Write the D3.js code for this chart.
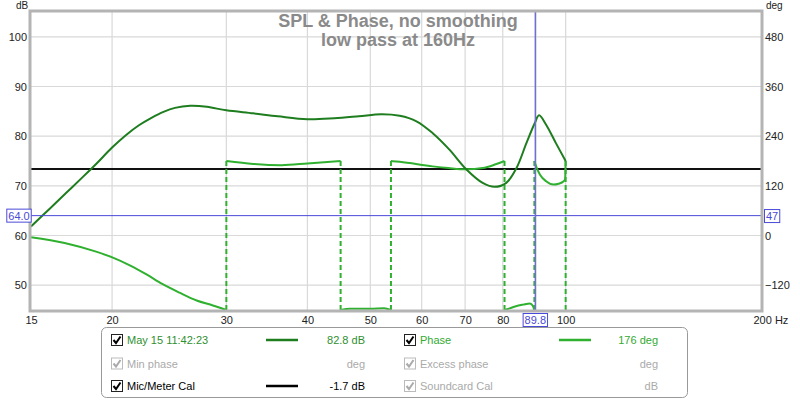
<!DOCTYPE html>
<html>
<head>
<meta charset="utf-8">
<script src="https://cdn.jsdelivr.net/npm/d3@7"></script>
<style>
  body { margin: 0; background: #fff; }
  svg { font-family: "Liberation Sans", Arial, sans-serif; }
</style>
</head>
<body>
<div id="chart"></div>
<script>
// SPL curve (dB)
const splFreq = [15, 16, 17, 18, 18.5, 19, 20, 21, 22, 23, 24, 25, 26.4, 28, 30, 33, 36, 40, 44, 48, 52, 55.5, 58.9, 62.4, 66.2, 70.2, 74.5, 77.7, 81, 84, 87, 89.6, 91, 93.3, 96.6, 100];
const splDb = [61.8, 65.3, 68.6, 71.7, 73.2, 74.7, 77.7, 80.2, 82.2, 83.7, 84.9, 85.7, 86.1, 85.9, 85.2, 84.6, 84.0, 83.4, 83.6, 84.0, 84.4, 84.1, 83.0, 80.6, 77.3, 73.4, 70.6, 69.8, 70.6, 73.6, 78.6, 82.6, 84.2, 82.3, 78.6, 75.0];

// phase (deg), wrapped to +-180 as drawn; repeated freq = wrap point
const phaseFreq = [15, 16.9, 18.9, 20.1, 21.3, 22.6, 23.9, 25.4, 27, 28.6, 30,
  30, 33, 36.5, 40, 45,
  45, 46.5, 50, 52.5, 53.8,
  53.8, 55.5, 62.4, 66, 70.2, 74.5, 78, 80.5,
  80.5, 82, 83.8, 86, 88.1, 89, 89.5,
  89.5, 90.3, 91.3, 93.3, 95.8, 97.5, 99.3, 99.8, 100,
  100];
const phaseDeg = [-4, -18, -39, -54, -72, -94, -117, -138, -157, -169, -180,
  180, 173, 170, 174, 180,
  -180, -177, -177, -176, -180,
  180, 178, 167, 163, 160, 163, 172, 180,
  -180, -176, -171, -167, -164, -170, -180,
  180, 162, 147, 131, 123, 125, 131, 136, 180,
  -180];

const calDb = 73.4;
const cursorFreq = 89.8, cursorDb = 64.0, cursorDeg = 47;

const dbTicks = [50, 60, 70, 80, 90, 100];
const degTicks = [-120, 0, 120, 240, 360, 480];
const freqTicks = [15, 20, 30, 40, 50, 60, 70, 80, 100, 200];
const freqGrid = [20, 30, 40, 50, 60, 70, 80, 90, 100];

const titleLines = ["SPL & Phase, no smoothing", "low pass at 160Hz"];

const legendRows = [
  [{name: "May 15 11:42:23", color: "#2f8f2f", line: "#1e7d1e", value: "82.8 dB", on: true},
   {name: "Phase", color: "#33aa33", line: "#2fb02f", value: "176 deg", on: true}],
  [{name: "Min phase", color: "#aaa", value: "deg", on: false},
   {name: "Excess phase", color: "#aaa", value: "deg", on: false}],
  [{name: "Mic/Meter Cal", color: "#000", line: "#000", value: "-1.7 dB", on: true},
   {name: "Soundcard Cal", color: "#aaa", value: "dB", on: false}]
];

const W = 800, H = 400;
const margin = {top: 12, right: 39, bottom: 90, left: 31};
const width = W - margin.left - margin.right;
const height = H - margin.top - margin.bottom;

const svg = d3.select("#chart").append("svg")
  .attr("width", W).attr("height", H);

const g = svg.append("g")
  .attr("transform", "translate(" + margin.left + "," + margin.top + ")");

// scales
const x = d3.scaleLog().domain([15, 200]).range([0, width]);
const y = d3.scaleLinear().domain([45, 105]).range([height, 0]);
const yDeg = d3.scaleLinear().domain([-180, 540]).range([height, 0]);

// grid
g.append("g").selectAll("line").data(dbTicks).join("line")
  .attr("x1", 0).attr("x2", width)
  .attr("y1", d => y(d)).attr("y2", d => y(d))
  .attr("stroke", "#d9d9d9").attr("stroke-width", 1.2);
g.append("g").selectAll("line").data(freqGrid).join("line")
  .attr("x1", d => x(d)).attr("x2", d => x(d))
  .attr("y1", 0).attr("y2", height)
  .attr("stroke", "#d9d9d9").attr("stroke-width", 1.2);

// title
g.append("g").selectAll("text").data(titleLines).join("text")
  .attr("x", 367).attr("y", (d, i) => 15 + i * 19)
  .attr("text-anchor", "middle")
  .attr("font-size", 18).attr("font-weight", "bold")
  .attr("fill", "#8a8a8a")
  .text(d => d);

// axes
const tickText = sel => {
  sel.select(".domain").remove();
  sel.selectAll(".tick line").remove();
  sel.selectAll("text").attr("fill", "#222").attr("font-size", 11)
    .attr("font-family", "Liberation Sans, Arial, sans-serif");
};
g.append("g")
  .call(d3.axisLeft(y).tickValues(dbTicks).tickSize(0).tickPadding(4))
  .call(tickText);
g.append("g")
  .attr("transform", "translate(" + width + ",0)")
  .call(d3.axisRight(yDeg).tickValues(degTicks).tickSize(0).tickPadding(4))
  .call(tickText);
const xAxis = g.append("g")
  .attr("transform", "translate(0," + height + ")")
  .call(d3.axisBottom(x).tickValues(freqTicks).tickFormat(d3.format("d")).tickSize(0).tickPadding(6))
  .call(tickText);
xAxis.selectAll(".tick text").filter(d => d === 200).attr("text-anchor", "start").attr("dx", -8).text("200 Hz");

g.append("text").attr("x", -9).attr("y", -3).attr("text-anchor", "middle")
  .attr("font-size", 10).attr("fill", "#222").text("dB");
g.append("text").attr("x", width + 5).attr("y", -3)
  .attr("font-size", 10).attr("fill", "#222").text("deg");

// cal line
g.append("line")
  .attr("x1", 0).attr("x2", width)
  .attr("y1", y(calDb)).attr("y2", y(calDb))
  .attr("stroke", "#111").attr("stroke-width", 2);

// phase: split into segments at wraps
const phasePts = phaseFreq.map((f, i) => [f, phaseDeg[i]]);
const segs = [[phasePts[0]]];
for (let i = 1; i < phasePts.length; i++) {
  if (Math.abs(phasePts[i][1] - phasePts[i - 1][1]) > 180) segs.push([]);
  segs[segs.length - 1].push(phasePts[i]);
}
const phaseLine = d3.line().x(d => x(d[0])).y(d => yDeg(d[1])).curve(d3.curveMonotoneX);
const phaseColor = "#2fb02f";
g.append("g").selectAll("path").data(segs.filter(s => s.length > 1)).join("path")
  .attr("d", phaseLine)
  .attr("fill", "none").attr("stroke", phaseColor).attr("stroke-width", 2);
// dashed connectors at wraps
const wraps = segs.slice(1).map((s, i) => {
  const prev = segs[i];
  return {f: s[0][0], a: prev[prev.length - 1][1], b: s[0][1]};
});
g.append("g").selectAll("line").data(wraps).join("line")
  .attr("x1", d => x(d.f)).attr("x2", d => x(d.f))
  .attr("y1", d => yDeg(d.a)).attr("y2", d => yDeg(d.b))
  .attr("stroke", phaseColor).attr("stroke-width", 2)
  .attr("stroke-dasharray", "5,3");

// SPL
const splLine = d3.line().x(d => x(d[0])).y(d => y(d[1])).curve(d3.curveCatmullRom.alpha(0.5));
g.append("path")
  .datum(splFreq.map((f, i) => [f, splDb[i]]))
  .attr("d", splLine)
  .attr("fill", "none").attr("stroke", "#1e7d1e").attr("stroke-width", 2);

// cursor
const cursorColor = "#4a4ad8";
g.append("line")
  .attr("x1", 0).attr("x2", width)
  .attr("y1", y(cursorDb)).attr("y2", y(cursorDb))
  .attr("stroke", cursorColor).attr("stroke-width", 1);
g.append("line")
  .attr("x1", x(cursorFreq)).attr("x2", x(cursorFreq))
  .attr("y1", 0).attr("y2", height)
  .attr("stroke", "#7070d0").attr("stroke-width", 1.5);

// frame
g.append("rect")
  .attr("x", -1).attr("y", -1).attr("width", width + 2).attr("height", height + 2)
  .attr("fill", "none").attr("stroke", "#b4b4b4").attr("stroke-width", 3);

function cursorLabel(cx, cy, txt, anchor) {
  const lab = g.append("g");
  const r = lab.append("rect");
  const t = lab.append("text").attr("x", cx).attr("y", cy + 4)
    .attr("text-anchor", anchor).attr("font-size", 11)
    .attr("fill", cursorColor).text(txt);
  const bb = t.node().getBBox();
  r.attr("x", bb.x - 1.5).attr("y", bb.y - 0.5).attr("width", bb.width + 3).attr("height", bb.height + 1)
    .attr("fill", "#fff").attr("stroke", cursorColor).attr("stroke-width", 1);
}
cursorLabel(-12, y(cursorDb), cursorDb.toFixed(1), "middle");
cursorLabel(width + 5, yDeg(cursorDeg), String(cursorDeg), "start");
cursorLabel(x(cursorFreq), height + 10, String(cursorFreq), "middle");

// legend
const leg = svg.append("g");
leg.append("rect")
  .attr("x", 101.5).attr("y", 327.5).attr("width", 586).attr("height", 70)
  .attr("rx", 5).attr("fill", "#fff").attr("stroke", "#999");

const colX = [111, 404];
const rowY = [340, 363.5, 386];
legendRows.forEach((row, r) => {
  row.forEach((item, c) => {
    const bx = colX[c], by = rowY[r];
    leg.append("rect")
      .attr("x", bx + 0.5).attr("y", by - 5.5).attr("width", 11).attr("height", 11)
      .attr("fill", "#fff").attr("stroke", item.on ? "#222" : "#bbb");
    leg.append("path")
      .attr("d", "M" + (bx + 2.5) + "," + by + " L" + (bx + 5) + "," + (by + 3) + " L" + (bx + 9.5) + "," + (by - 3.5))
      .attr("fill", "none").attr("stroke", item.on ? "#000" : "#aaa").attr("stroke-width", 2);
    leg.append("text")
      .attr("x", bx + 16).attr("y", by + 4)
      .attr("font-size", 11).attr("fill", item.color)
      .text(item.name);
    if (item.line) {
      leg.append("line")
        .attr("x1", bx + 155).attr("x2", bx + 187)
        .attr("y1", by).attr("y2", by)
        .attr("stroke", item.line).attr("stroke-width", 2.5);
    }
    leg.append("text")
      .attr("x", bx + 254).attr("y", by + 4)
      .attr("text-anchor", "end")
      .attr("font-size", 11).attr("fill", item.color)
      .text(item.value);
  });
});
</script>
</body>
</html>
